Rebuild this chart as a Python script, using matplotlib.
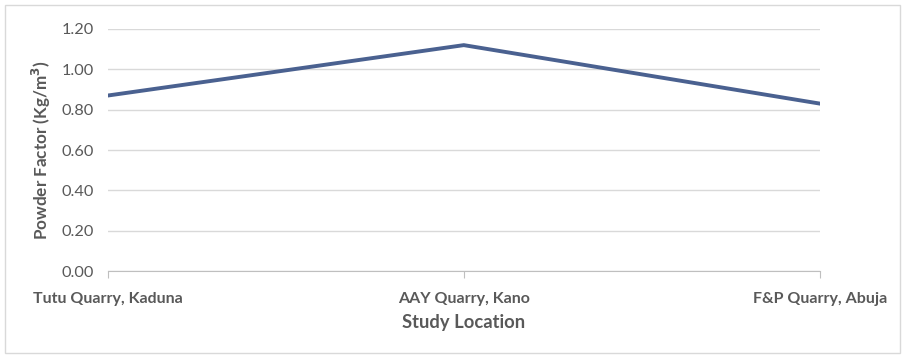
import matplotlib
matplotlib.use("Agg")
import matplotlib.pyplot as plt
from matplotlib.patches import Rectangle

locations = ["Tutu Quarry, Kaduna", "AAY Quarry, Kano", "F&P Quarry, Abuja"]
powder_factor = [0.87, 1.12, 0.83]
yticks = [0.0, 0.2, 0.4, 0.6, 0.8, 1.0, 1.2]

plt.rcParams['font.family'] = ['Lato', 'DejaVu Sans']
txt = '#595959'

fig = plt.figure(figsize=(9.05, 3.58), dpi=100)
ax = fig.add_axes([0.119, 0.243, 0.787, 0.676])

x = list(range(len(locations)))
ax.plot(x, powder_factor, color='#4a6190', lw=2.8, solid_joinstyle='miter', zorder=3)

ax.set_xlim(0, len(locations) - 1)
ax.set_ylim(0, 1.2)
ax.set_yticks(yticks)
ax.set_yticklabels([f"{v:.2f}" for v in yticks], color=txt, fontsize=11.7)
ax.set_xticks(x)
ax.set_xticklabels(locations, color=txt, fontsize=11.5, fontweight='bold')

ax.grid(axis='y', color='#d9d9d9', lw=1)
ax.set_axisbelow(True)
for s in ['left', 'right', 'top']:
    ax.spines[s].set_visible(False)
ax.spines['bottom'].set_color('#bfbfbf')
ax.tick_params(axis='y', length=0, pad=10)
ax.tick_params(axis='x', length=5, color='#bfbfbf', direction='out', pad=10)

ax.set_ylabel("Powder Factor (Kg/m$^\\mathbf{3}$)", color=txt, fontsize=12.3, fontweight='bold', labelpad=6)
ax.set_xlabel("Study Location", color=txt, fontsize=13.2, fontweight='bold', labelpad=6)

fig.patches.append(Rectangle((5/905, 5/358), 895/905, 348/358, transform=fig.transFigure,
                             fill=False, edgecolor='#d9d9d9', lw=1))

fig.savefig("out.png", dpi=100)
